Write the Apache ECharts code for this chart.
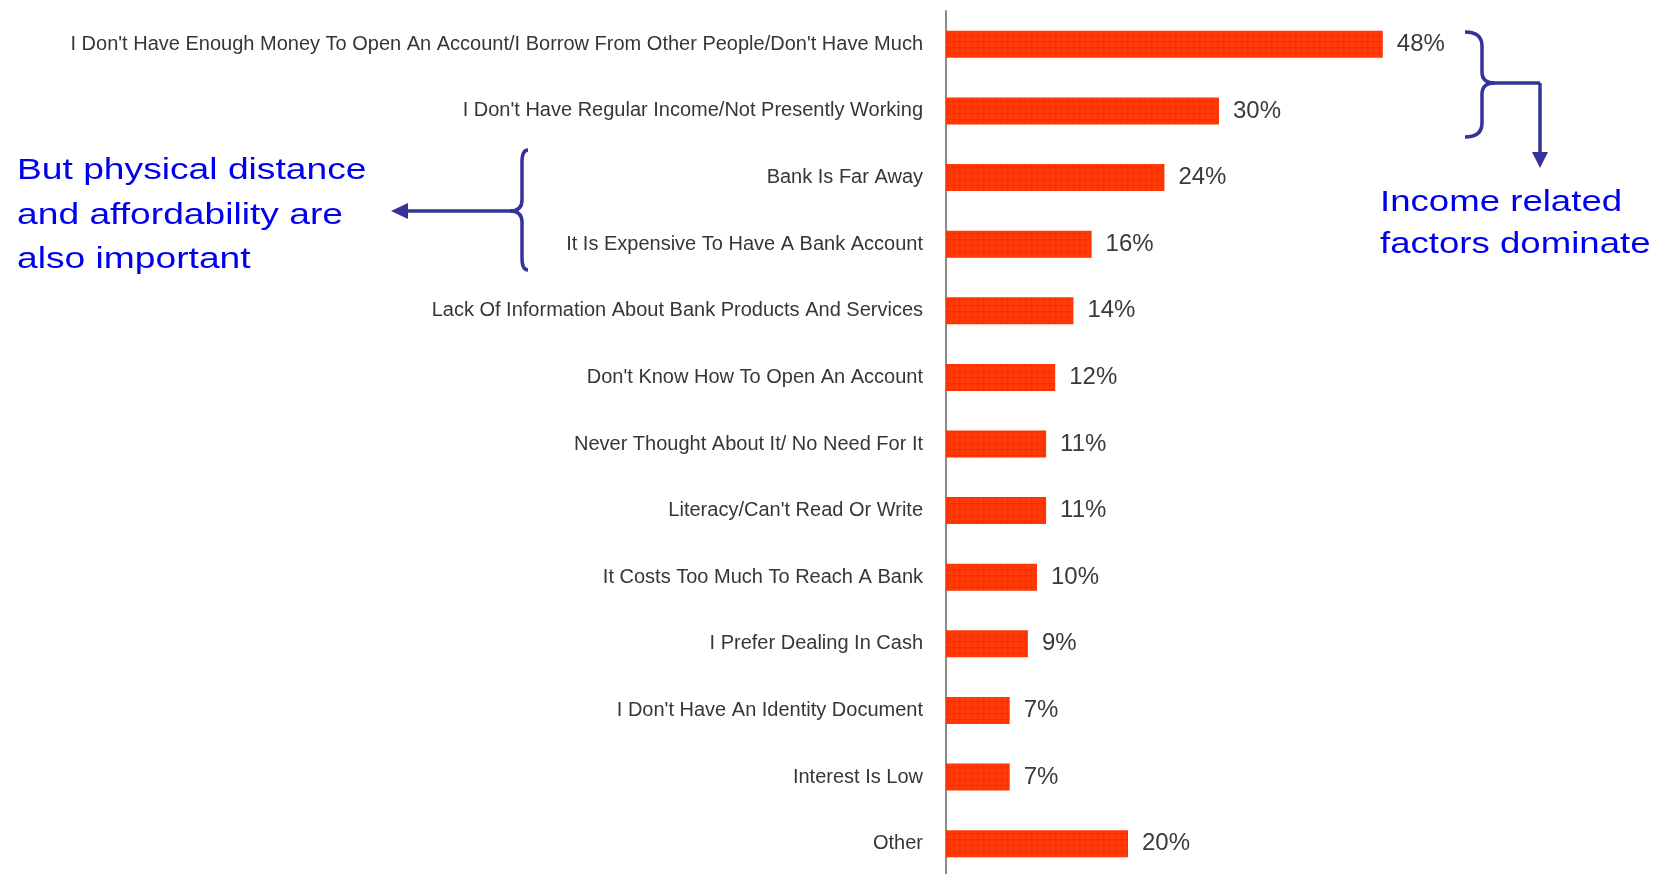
<!DOCTYPE html>
<html>
<head>
<meta charset="utf-8">
<script src="https://cdn.jsdelivr.net/npm/echarts@6/dist/echarts.min.js"></script>
<style>
html, body { margin: 0; padding: 0; background: #fff; }
#main { width: 1659px; height: 874px; }
</style>
</head>
<body>
<div id="main"></div>
<script>
// reasons for not having a bank account (top to bottom)
var reasons = [
    "I Don't Have Enough Money To Open An Account/I Borrow From Other People/Don't Have Much",
    "I Don't Have Regular Income/Not Presently Working",
    'Bank Is Far Away',
    'It Is Expensive To Have A Bank Account',
    'Lack Of Information About Bank Products And Services',
    "Don't Know How To Open An Account",
    'Never Thought About It/ No Need For It',
    "Literacy/Can't Read Or Write",
    'It Costs Too Much To Reach A Bank',
    'I Prefer Dealing In Cash',
    "I Don't Have An Identity Document",
    'Interest Is Low',
    'Other'
];
var shares = [48, 30, 24, 16, 14, 12, 11, 11, 10, 9, 7, 7, 20];
var noteLeft = ['But physical distance', 'and affordability are', 'also important'];
var noteRight = ['Income related', 'factors dominate'];

var navy = '#333399';
var blue = '#0000ee';

// fill with small grid pattern like the original bars
var pc = document.createElement('canvas');
pc.width = 6;
pc.height = 6;
var pctx = pc.getContext('2d');
pctx.fillStyle = '#ff3a08';
pctx.fillRect(0, 0, 6, 6);
pctx.fillStyle = 'rgba(205,35,0,0.28)';
pctx.fillRect(5, 0, 1, 6);
pctx.fillRect(0, 5, 6, 1);

function curve(x1, y1, cx, cy, x2, y2) {
    return {
        type: 'bezierCurve',
        shape: { x1: x1, y1: y1, cpx1: cx, cpy1: cy, x2: x2, y2: y2 },
        style: { stroke: navy, lineWidth: 3.5, fill: null }
    };
}
function seg(x1, y1, x2, y2) {
    return {
        type: 'line',
        shape: { x1: x1, y1: y1, x2: x2, y2: y2 },
        style: { stroke: navy, lineWidth: 3.5 }
    };
}
function tri(pts) {
    return { type: 'polygon', shape: { points: pts }, style: { fill: navy } };
}
function note(txt, x, y, fs, sx) {
    return {
        type: 'text', x: x, y: y, scaleX: sx,
        style: {
            text: txt, fill: blue, fontSize: fs,
            fontFamily: 'Liberation Sans, Arial, sans-serif',
            verticalAlign: 'middle'
        }
    };
}

var graphics = [
    // right brace "}" + elbow arrow down
    curve(1465, 32, 1482, 32, 1482, 46),
    seg(1482, 46, 1482, 72),
    curve(1482, 72, 1482, 83, 1495, 83),
    curve(1495, 83, 1482, 83, 1482, 94),
    seg(1482, 94, 1482, 123),
    curve(1482, 123, 1482, 137, 1465, 137),
    seg(1495, 83, 1540, 83),
    seg(1540, 83, 1540, 153),
    tri([[1532, 152], [1548, 152], [1540, 168]]),
    // left brace "{" + arrow left
    curve(528, 150, 522, 150, 522, 162),
    seg(522, 162, 522, 200),
    curve(522, 200, 522, 211, 510, 211),
    curve(510, 211, 522, 211, 522, 222),
    seg(522, 222, 522, 258),
    curve(522, 258, 522, 270, 528, 270),
    seg(510, 211, 406, 211),
    tri([[408, 203], [408, 219], [391, 211]])
];
for (var i = 0; i < noteLeft.length; i++) {
    graphics.push(note(noteLeft[i], 17, 171 + i * 44.5, 30, 1.24));
}
for (var j = 0; j < noteRight.length; j++) {
    graphics.push(note(noteRight[j], 1380, 203 + j * 42, 30, 1.22));
}

var chart = echarts.init(document.getElementById('main'));
var option = {
    backgroundColor: '#fff',
    animation: false,
    grid: {
        left: 946, top: 11, width: 910, height: 866,
        containLabel: false,
        outerBoundsMode: 'none'
    },
    xAxis: {
        type: 'value',
        min: 0,
        max: 100,
        show: false
    },
    yAxis: {
        type: 'category',
        inverse: true,
        data: reasons,
        axisLine: { lineStyle: { color: '#8a8a8a', width: 2 } },
        axisTick: { length: 5, lineStyle: { color: '#9a9a9a', width: 1.5 } },
        axisLabel: {
            color: '#363636',
            fontSize: 20,
            fontFamily: 'Liberation Sans, Arial, sans-serif',
            margin: 23
        }
    },
    series: [{
        type: 'bar',
        data: shares,
        barWidth: 27,
        itemStyle: { color: { image: pc, repeat: 'repeat' } },
        label: {
            show: true,
            position: 'right',
            distance: 14,
            formatter: '{c}%',
            color: '#3a3a3a',
            fontSize: 24,
            fontFamily: 'Liberation Sans, Arial, sans-serif'
        }
    }],
    graphic: graphics
};
chart.setOption(option);
</script>
</body>
</html>
